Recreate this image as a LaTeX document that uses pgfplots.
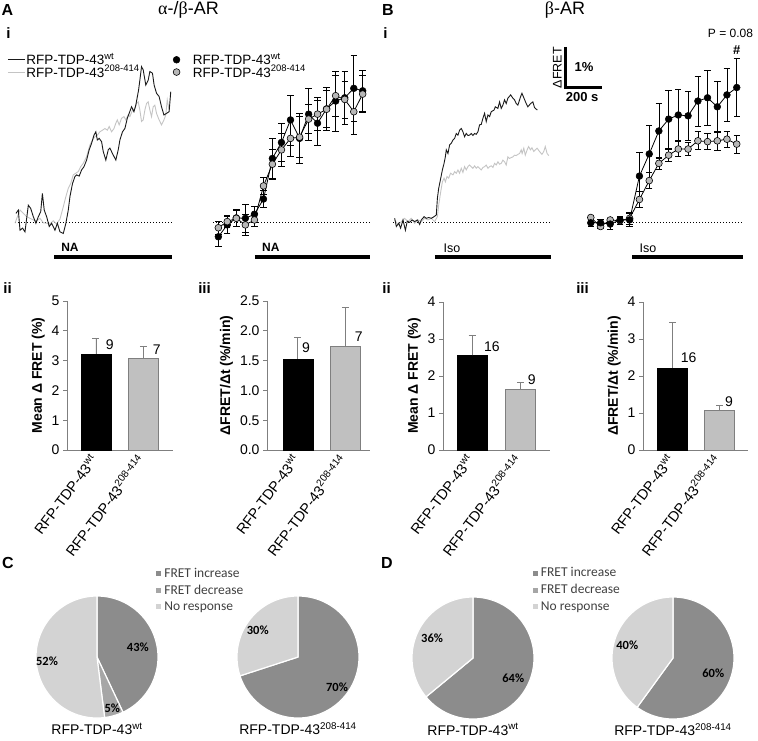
\documentclass[border=0pt]{standalone}
\usepackage{fontspec}
\setmainfont{Liberation Sans}
\newfontfamily\greekserif{Liberation Serif}
\newfontfamily\carlito{Carlito}
\usepackage{pgfplots}
\usepackage{pgfplotstable}
\pgfplotsset{compat=1.18}

\newcommand{\fs}[1]{\fontsize{#1}{#1}\selectfont}
\newcommand{\wtlab}{RFP-TDP-43\textsuperscript{wt}}
\newcommand{\mutlab}{RFP-TDP-43\textsuperscript{208-414}}

\definecolor{wtline}{HTML}{1A1A1A}
\definecolor{mutline}{HTML}{C4C4C4}
\definecolor{mutmark}{HTML}{B8B8B8}
\definecolor{barmut}{HTML}{C0C0C0}
\definecolor{baredge}{HTML}{7F7F7F}
\definecolor{pinc}{HTML}{8C8C8C}
\definecolor{pdec}{HTML}{A6A6A6}
\definecolor{pno}{HTML}{D3D3D3}
\definecolor{legtext}{HTML}{404040}

% ---------------- A i traces (t in s, v = Delta FRET in %)
\pgfplotstableread{
t v
5 0.21
18 0.29
27 -0.20
41 -0.15
54 -0.24
72 0.41
85 0.33
99 0.13
113 -0.03
126 0.13
139 0.25
148 0.70
158 0.29
171 0.13
185 -0.11
198 -0.03
216 -0.20
229 -0.03
243 -0.24
261 -0.28
275 -0.03
288 0.29
297 0.62
311 0.94
324 1.11
333 1.15
347 1.12
360 1.27
373 1.35
387 1.51
401 1.76
414 1.92
427 2.12
437 2.20
445 2.00
455 2.04
468 1.96
477 1.72
491 1.51
504 1.76
513 1.80
527 1.67
545 1.51
558 1.76
567 2.00
581 2.20
594 2.28
607 2.53
617 2.65
630 2.81
643 2.69
653 2.85
668 3.22
675 3.46
684 3.79
693 3.71
707 3.34
720 3.46
729 3.67
743 3.63
752 3.34
765 3.14
779 3.06
792 2.81
805 2.61
819 2.65
833 2.69
842 3.18
}\AleftWT

\pgfplotstableread{
t v
0 -0.03
13 0.13
27 0.29
45 0.21
63 0.13
81 0.09
99 0.05
117 0.03
135 0.09
153 -0.02
171 -0.03
189 -0.05
207 0.03
225 -0.05
243 0.07
261 0.37
275 0.62
288 0.82
301 0.94
315 1.15
329 1.19
342 1.23
355 1.35
369 1.43
387 1.59
405 1.88
419 2.00
432 2.08
445 2.12
459 2.20
473 2.24
486 2.28
499 2.24
509 2.33
522 2.20
535 2.28
545 2.41
553 2.49
563 2.37
576 2.53
589 2.57
599 2.49
612 2.61
621 2.57
635 2.73
648 2.77
657 2.89
666 2.93
675 2.73
684 2.45
693 2.49
702 2.73
711 2.89
720 2.93
729 2.73
738 2.57
747 2.81
756 2.85
765 2.65
779 2.49
792 2.37
805 2.49
815 2.61
823 2.98
833 2.73
}\AleftMUT

\pgfplotstableread{
t v e
29 -0.36 0.23
77 -0.07 0.20
126 0.10 0.20
175 0.09 0.35
224 0.19 0.20
273 0.56 0.20
321 1.55 0.50
370 1.94 0.46
419 2.49 0.61
468 2.04 0.61
517 2.63 0.63
565 2.41 0.55
614 2.76 0.53
663 2.95 0.73
712 3.03 0.65
761 3.26 0.81
809 3.20 0.50
}\ArightWT

\pgfplotstableread{
t v e
29 -0.14 0.15
77 0.01 0.15
126 0.09 0.20
175 -0.07 0.25
224 0.05 0.15
273 0.88 0.20
321 1.41 0.35
370 1.76 0.40
419 2.04 0.45
468 2.07 0.50
517 2.51 0.35
565 2.63 0.40
614 2.75 0.45
663 3.08 0.50
712 2.99 0.45
761 2.69 0.55
809 3.12 0.45
}\ArightMUT

% ---------------- B i traces
\pgfplotstableread{
t v
9 0.09
18 -0.11
31 -0.03
41 -0.15
54 0.05
67 -0.20
77 0.02
90 -0.01
103 0.05
117 0.01
132 0.05
144 -0.06
153 0.05
168 0.13
180 0.09
193 0.11
207 0.09
222 0.13
234 0.17
240 0.58
247 0.82
258 1.07
267 1.27
276 1.43
283 1.59
288 1.76
297 1.67
306 1.88
315 1.92
324 2.00
333 2.04
342 2.16
351 2.12
360 2.24
369 2.28
378 2.20
387 2.08
396 2.16
405 2.11
414 2.12
423 2.16
432 2.11
441 2.16
450 2.14
459 2.20
468 2.37
477 2.38
486 2.53
495 2.65
504 2.45
513 2.61
522 2.57
531 2.69
546 2.73
553 2.81
567 2.77
576 2.93
585 2.77
594 2.85
603 2.98
612 2.89
621 3.02
636 3.10
648 3.02
657 2.98
666 2.89
675 2.85
690 3.06
697 3.14
708 3.02
720 2.89
729 2.81
744 2.89
756 2.93
765 2.79
780 2.73
}\BleftWT

\pgfplotstableread{
t v
9 0.05
27 -0.07
45 0.01
63 0.09
81 0.01
99 0.09
117 -0.03
135 0.05
153 0.01
171 0.09
189 0.05
207 0.09
225 0.01
240 0.13
247 0.41
258 0.74
267 0.98
276 1.07
283 0.98
292 1.11
301 1.07
311 1.19
324 1.15
333 1.23
342 1.19
351 1.27
360 1.19
369 1.31
378 1.21
387 1.35
396 1.27
405 1.35
414 1.39
423 1.35
432 1.31
441 1.37
450 1.31
459 1.35
468 1.31
477 1.27
486 1.33
495 1.35
504 1.39
513 1.31
522 1.35
531 1.37
540 1.33
549 1.43
558 1.39
567 1.47
576 1.41
585 1.43
594 1.51
603 1.47
612 1.39
621 1.59
630 1.55
639 1.57
648 1.59
657 1.63
666 1.62
675 1.65
684 1.67
693 1.76
698 1.67
707 1.80
715 1.63
725 1.76
733 1.84
743 1.76
751 1.81
761 1.72
769 1.76
779 1.80
792 1.72
805 1.65
815 1.72
823 1.84
833 1.67
842 1.62
}\BleftMUT

\pgfplotstableread{
t v e
15 -0.02 0.08
68 -0.02 0.08
120 -0.05 0.12
173 0.05 0.10
225 0.05 0.15
278 1.12 0.57
331 1.66 0.69
383 2.22 0.67
436 2.51 0.71
488 2.61 0.62
541 2.59 0.59
594 2.95 0.61
646 3.03 0.67
699 2.81 0.63
751 3.10 0.65
804 3.28 0.70
}\BrightWT

\pgfplotstableread{
t v e
15 0.11 0.05
68 -0.11 0.05
120 0.05 0.05
173 0.03 0.08
225 0.09 0.15
278 0.55 0.20
331 1.01 0.20
383 1.43 0.15
436 1.63 0.15
488 1.78 0.18
541 1.78 0.16
594 1.98 0.22
646 1.96 0.20
699 1.98 0.23
751 2.02 0.20
804 1.90 0.22
}\BrightMUT

\pgfplotsset{
  /pgf/number format/assume math mode=true,
  trace/.style={x=0.185pt, y=41pt, xmin=0, ymin=-1, ymax=4.5,
    axis lines=none, clip=false, anchor=south west},
  baseline/.style={black, line width=0.6pt, dash pattern=on 0.7pt off 2.3pt, forget plot},
  drugbar/.style={black, line width=4.5pt, forget plot},
  meanline/.style={black, line width=0.8pt, forget plot},
  meanwt/.style={only marks, mark=*, mark size=3.4pt,
    mark options={fill=black, draw=black, line width=0.5pt}},
  meanmut/.style={only marks, mark=*, mark size=3.4pt,
    mark options={fill=mutmark, draw=black, line width=0.6pt}},
  errs/.style={error bars/.cd, y dir=both, y explicit,
    error bar style={black, line width=0.7pt},
    error mark options={rotate=90, black, mark size=3.2pt, line width=0.7pt}},
  barerr/.style={error bars/.cd, y dir=plus, y explicit,
    error bar style={baredge, line width=0.9pt},
    error mark options={rotate=90, baredge, mark size=3.5pt, line width=0.9pt}},
  barax/.style={anchor=south west, clip=false,
    axis x line*=bottom, axis y line*=left,
    axis line style={draw=baredge, line width=0.8pt},
    ymin=0, enlargelimits=false,
    xtick={0,1}, xticklabels={\wtlab,\mutlab},
    x tick style={draw=none},
    y tick style={draw=baredge, line width=0.8pt},
    tick align=outside, major tick length=4pt,
    xticklabel style={rotate=53, anchor=east, font=\fs{14.5}},
    yticklabel style={font=\fs{14}},
    ylabel style={font=\bfseries\fs{14}}},
  tracelegend/.style={legend style={anchor=north west, draw=none, fill=none,
    font=\fs{13.5}, inner sep=0pt, row sep=-2.8pt, nodes={inner sep=1pt}},
    legend cell align=left},
  pieax/.style={x=61pt, y=61pt, xmin=-1, xmax=1, ymin=-1, ymax=1,
    axis lines=none, clip=false, anchor=center,
    legend image code/.code={\fill[##1] (0pt,-3pt) rectangle (6pt,3pt);},
    legend style={draw=none, fill=none, font=\carlito\fs{13.5}, text=legtext,
      inner sep=0pt, row sep=4pt, column sep=1pt, anchor=north west,
      nodes={inner sep=1pt}},
    legend cell align=left},
}

\newcommand{\pieslice}[3]{% start %, end %, colour
  \addplot[fill=#3, draw=white, line width=1.2pt, domain=90-3.6*#2:90-3.6*#1,
    samples=90, variable=\t] ({cos(\t)},{sin(\t)}) -- (axis cs:0,0) -- cycle;}

\begin{document}
\begin{tikzpicture}[x=1pt, y=1pt]
\useasboundingbox (0,0) rectangle (758,-740);

% ======== A i left
\begin{axis}[trace, at={(15pt,-263pt)}, xmax=849, tracelegend,
  legend style={at={(-0.05,0.935)}}]
\addlegendimage{wtline, line width=1pt}
\addlegendentry{\wtlab}
\addlegendimage{mutline, line width=1pt}
\addlegendentry{\mutlab}
\addplot[baseline] coordinates {(0,0) (849,0)};
\addplot[mutline, line width=0.9pt, forget plot] table[x=t, y=v] {\AleftMUT};
\addplot[wtline, line width=0.9pt, forget plot] table[x=t, y=v] {\AleftWT};
\addplot[drugbar] coordinates {(211,-0.85) (849,-0.85)};
\node[font=\bfseries\fs{12}] at (axis cs:297,-0.63) {NA};
\end{axis}

% ======== A i right
\begin{axis}[trace, at={(213pt,-263pt)}, xmax=849, tracelegend,
  legend style={at={(-0.26,0.935)}},
  legend image code/.code={\draw[#1] plot coordinates {(0pt,0pt)}; \path (-4pt,0pt) (15pt,0pt);}]
\addplot[baseline] coordinates {(0,0) (849,0)};
\addplot[meanline] table[x=t, y=v] {\ArightMUT};
\addplot[meanline] table[x=t, y=v] {\ArightWT};
\addplot[meanwt, errs] table[x=t, y=v, y error=e] {\ArightWT};
\addlegendentry{\wtlab}
\addplot[meanmut, errs] table[x=t, y=v, y error=e] {\ArightMUT};
\addlegendentry{\mutlab}
\addplot[drugbar] coordinates {(227,-0.85) (849,-0.85)};
\node[font=\bfseries\fs{12}] at (axis cs:313,-0.63) {NA};
\end{axis}

% ======== B i left
\begin{axis}[trace, at={(393pt,-263pt)}, xmax=854]
\addplot[baseline] coordinates {(0,0) (854,0)};
\addplot[mutline, line width=0.9pt] table[x=t, y=v] {\BleftMUT};
\addplot[wtline, line width=0.9pt] table[x=t, y=v] {\BleftWT};
\addplot[drugbar] coordinates {(227,-0.85) (854,-0.85)};
\node[font=\fs{12.5}] at (axis cs:319,-0.63) {Iso};
% scale bar: 1 % and 200 s
\draw[black, line width=3pt] (axis cs:930,4.27) -- (axis cs:930,3.27) -- (axis cs:1130,3.27);
\node[font=\fs{12.5}, rotate=90] at (axis cs:888,3.76) {ΔFRET};
\node[font=\bfseries\fs{13}] at (axis cs:1033,3.78) {1\%};
\node[font=\bfseries\fs{13}] at (axis cs:1022,3.05) {200 s};
\end{axis}

% ======== B i right
\begin{axis}[trace, at={(588pt,-263pt)}, xmax=838]
\addplot[baseline] coordinates {(0,0) (838,0)};
\addplot[meanline] table[x=t, y=v] {\BrightMUT};
\addplot[meanline] table[x=t, y=v] {\BrightWT};
\addplot[meanmut, errs] table[x=t, y=v, y error=e] {\BrightMUT};
\addplot[meanwt, errs] table[x=t, y=v, y error=e] {\BrightWT};
\addplot[drugbar] coordinates {(238,-0.85) (838,-0.85)};
\node[font=\fs{12.5}] at (axis cs:324,-0.63) {Iso};
\node[font=\fs{12}] at (axis cs:770,4.6) {P = 0.08};
\node[font=\bfseries\fs{13}] at (axis cs:804,4.19) {\#};
\end{axis}

% ======== A ii
\begin{axis}[barax, at={(67pt,-450pt)}, x=47.5pt, y=29.8pt, xmin=-0.61, xmax=1.62,
  ymax=5, ytick={0,1,2,3,4,5}, ylabel={Mean Δ FRET (\%)}]
\addplot[ybar, bar width=30pt, bar shift=0pt, fill=black, draw=black, barerr]
  coordinates {(0,3.22) +- (0,0.54)};
\addplot[ybar, bar width=30pt, bar shift=0pt, fill=barmut, draw=baredge, barerr]
  coordinates {(1,3.08) +- (0,0.39)};
\node[font=\fs{14}] at (axis cs:0.29,3.52) {9};
\node[font=\fs{14}] at (axis cs:1.28,3.36) {7};
\end{axis}

% ======== A iii
\begin{axis}[barax, at={(267pt,-450pt)}, x=47.5pt, y=59.6pt, xmin=-0.65, xmax=1.52,
  ymax=2.5, ytick={0,0.5,1,1.5,2,2.5},
  yticklabel style={/pgf/number format/.cd, fixed, fixed zerofill, precision=1},
  ylabel={ΔFRET/Δt (\%/min)}]
\addplot[ybar, bar width=30pt, bar shift=0pt, fill=black, draw=black, barerr]
  coordinates {(0,1.53) +- (0,0.36)};
\addplot[ybar, bar width=30pt, bar shift=0pt, fill=barmut, draw=baredge, barerr]
  coordinates {(1,1.74) +- (0,0.65)};
\node[font=\fs{14}] at (axis cs:0.17,1.71) {9};
\node[font=\fs{14}] at (axis cs:1.28,1.90) {7};
\end{axis}

% ======== B ii
\begin{axis}[barax, at={(443pt,-450pt)}, x=48.5pt, y=37pt, xmin=-0.60, xmax=1.61,
  ymax=4, ytick={0,1,2,3,4}, ylabel={Mean Δ FRET (\%)}]
\addplot[ybar, bar width=30pt, bar shift=0pt, fill=black, draw=black, barerr]
  coordinates {(0,2.56) +- (0,0.54)};
\addplot[ybar, bar width=30pt, bar shift=0pt, fill=barmut, draw=baredge, barerr]
  coordinates {(1,1.65) +- (0,0.18)};
\node[font=\fs{14}] at (axis cs:0.41,2.78) {16};
\node[font=\fs{14}] at (axis cs:1.23,1.89) {9};
\end{axis}

% ======== B iii
\begin{axis}[barax, at={(643pt,-450pt)}, x=47pt, y=37pt, xmin=-0.63, xmax=1.6,
  ymax=4, ytick={0,1,2,3,4}, ylabel={ΔFRET/Δt (\%/min)}]
\addplot[ybar, bar width=30pt, bar shift=0pt, fill=black, draw=black, barerr]
  coordinates {(0,2.22) +- (0,1.22)};
\addplot[ybar, bar width=30pt, bar shift=0pt, fill=barmut, draw=baredge, barerr]
  coordinates {(1,1.07) +- (0,0.13)};
\node[font=\fs{14}] at (axis cs:0.34,2.49) {16};
\node[font=\fs{14}] at (axis cs:1.2,1.30) {9};
\end{axis}

% ======== C pies
\begin{axis}[pieax, at={(97pt,-657pt)}, legend style={at={(0.975,1.24)}}]
\pieslice{0}{43}{pinc}
\addlegendentry{FRET increase}
\pieslice{43}{48}{pdec}
\addlegendentry{FRET decrease}
\pieslice{48}{100}{pno}
\addlegendentry{No response}
\node[font=\carlito\bfseries\fs{12.5}] at (axis cs:0.67,0.16) {43\%};
\node[font=\carlito\bfseries\fs{12.5}] at (axis cs:0.25,-0.84) {5\%};
\node[font=\carlito\bfseries\fs{12.5}] at (axis cs:-0.82,-0.07) {52\%};
\node[font=\fs{14}] at (axis cs:0,-1.18) {\wtlab};
\end{axis}

\begin{axis}[pieax, at={(298pt,-657pt)}]
\pieslice{0}{70}{pinc}
\pieslice{70}{100}{pno}
\node[font=\carlito\bfseries\fs{12.5}] at (axis cs:-0.66,0.44) {30\%};
\node[font=\carlito\bfseries\fs{12.5}] at (axis cs:0.64,-0.49) {70\%};
\node[font=\fs{14}] at (axis cs:0,-1.18) {\mutlab};
\end{axis}

% ======== D pies
\begin{axis}[pieax, at={(473pt,-658pt)}, legend style={at={(0.98,1.25)}}]
\pieslice{0}{64}{pinc}
\addlegendentry{FRET increase}
\addlegendimage{fill=pdec, draw=white}
\addlegendentry{FRET decrease}
\pieslice{64}{100}{pno}
\addlegendentry{No response}
\node[font=\carlito\bfseries\fs{12.5}] at (axis cs:-0.67,0.33) {36\%};
\node[font=\carlito\bfseries\fs{12.5}] at (axis cs:0.66,-0.33) {64\%};
\node[font=\fs{14}] at (axis cs:0,-1.17) {\wtlab};
\end{axis}

\begin{axis}[pieax, at={(673pt,-658pt)}]
\pieslice{0}{60}{pinc}
\pieslice{60}{100}{pno}
\node[font=\carlito\bfseries\fs{12.5}] at (axis cs:-0.75,0.21) {40\%};
\node[font=\carlito\bfseries\fs{12.5}] at (axis cs:0.66,-0.25) {60\%};
\node[font=\fs{14}] at (axis cs:0,-1.17) {\mutlab};
\end{axis}

% ======== panel letters, numerals, titles
\node[font=\bfseries\fs{16}] at (7.5,-9.5) {A};
\node[font=\bfseries\fs{16}] at (388,-10) {B};
\node[font=\bfseries\fs{16}] at (8,-563) {C};
\node[font=\bfseries\fs{16}] at (387,-563) {D};
\node[font=\bfseries\fs{15}] at (8.5,-33) {i};
\node[font=\bfseries\fs{15}] at (385.5,-33) {i};
\node[font=\bfseries\fs{15}] at (7.5,-288) {ii};
\node[font=\bfseries\fs{15}] at (204.5,-288) {iii};
\node[font=\bfseries\fs{15}] at (386.5,-288) {ii};
\node[font=\bfseries\fs{15}] at (582.5,-288) {iii};
\node[font=\fs{18}] at (188.5,-10) {{\greekserif α}-/{\greekserif β}-AR};
\node[font=\fs{18}] at (565,-10) {{\greekserif β}-AR};
\end{tikzpicture}
\end{document}
